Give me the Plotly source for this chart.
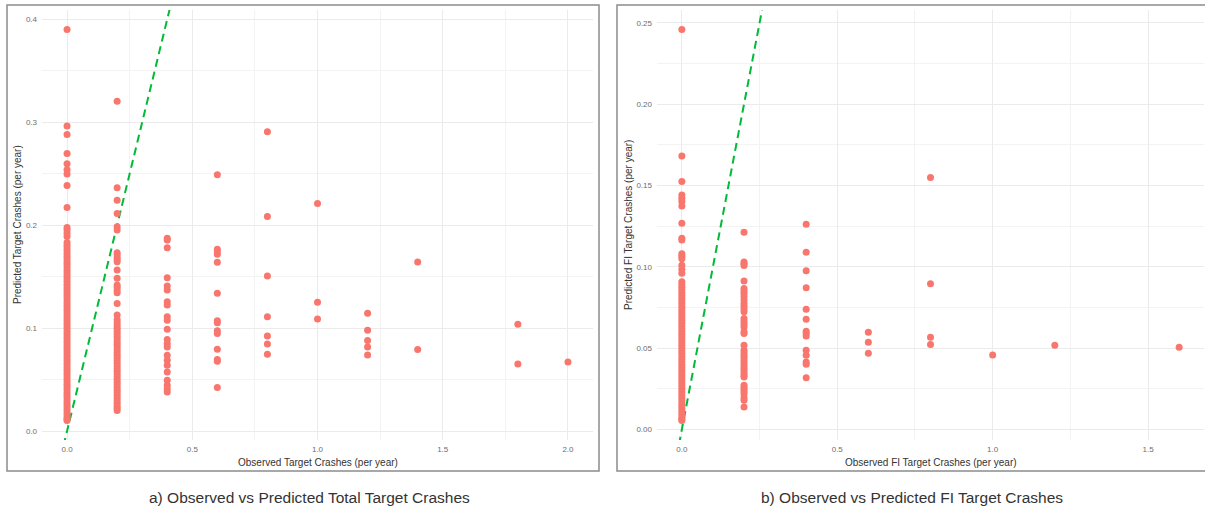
import plotly.graph_objects as go

W, H = 1205, 510

# ---- Total target crashes: observed levels and predicted values at each level
total_obs_levels = [0.0, 0.2, 0.4, 0.6, 0.8, 1.0, 1.2, 1.4, 1.8, 2.0]
total_pred_groups = [
    [0.390, 0.2964, 0.2882, 0.2697, 0.2597, 0.2538, 0.2497, 0.2386, 0.2171, 0.1977,
     0.1954, 0.1922, 0.1890, 0.1832, 0.1805, 0.1779, 0.1752, 0.1724, 0.1696, 0.1671,
     0.1643, 0.1618, 0.1590, 0.1561, 0.1537, 0.1509, 0.1482, 0.1455, 0.1427, 0.1401,
     0.1374, 0.1346, 0.1319, 0.1293, 0.1265, 0.1238, 0.1211, 0.1183, 0.1157, 0.1129,
     0.1102, 0.1075, 0.1048, 0.1021, 0.0994, 0.0967, 0.0941, 0.0913, 0.0886, 0.0859,
     0.0832, 0.0805, 0.0778, 0.0752, 0.0724, 0.0697, 0.0671, 0.0644, 0.0617, 0.0590,
     0.0563, 0.0536, 0.0509, 0.0482, 0.0455, 0.0428, 0.0401, 0.0374, 0.0348, 0.0321,
     0.0294, 0.0267, 0.0241, 0.0214, 0.0187, 0.0161, 0.0134, 0.0115, 0.0104],
    [0.3204, 0.2363, 0.2243, 0.2113, 0.1986, 0.1954, 0.1733, 0.1712, 0.1688, 0.1664,
     0.1646, 0.1565, 0.1484, 0.1420, 0.1398, 0.1372, 0.1345, 0.1240, 0.1127, 0.1081,
     0.1052, 0.1027, 0.0999, 0.0973, 0.0948, 0.0921, 0.0896, 0.0868, 0.0843, 0.0817,
     0.0790, 0.0764, 0.0738, 0.0712, 0.0686, 0.0659, 0.0633, 0.0607, 0.0581, 0.0554,
     0.0529, 0.0502, 0.0476, 0.0450, 0.0424, 0.0398, 0.0372, 0.0346, 0.0320, 0.0294,
     0.0268, 0.0243, 0.0219, 0.0201],
    [0.1873, 0.1857, 0.1782, 0.1490, 0.1409, 0.1370, 0.1256, 0.1224, 0.1110, 0.1078,
     0.0990, 0.0890, 0.0850, 0.0818, 0.0737, 0.0688, 0.0640, 0.0575, 0.0494, 0.0445,
     0.0410, 0.0380],
    [0.2490, 0.1766, 0.1743, 0.1718, 0.1640, 0.1340, 0.1071, 0.1052, 0.0974, 0.0948,
     0.0796, 0.0695, 0.0679, 0.0423],
    [0.2908, 0.2084, 0.1506, 0.1110, 0.0925, 0.0847, 0.0747],
    [0.2210, 0.1253, 0.1090],
    [0.1146, 0.0980, 0.0880, 0.0818, 0.0740],
    [0.1643, 0.0792],
    [0.1039, 0.0653],
    [0.0672],
]

# ---- Fatal/injury (FI) target crashes
fi_obs_levels = [0.0, 0.2, 0.4, 0.6, 0.8, 1.0, 1.2, 1.6]
fi_pred_groups = [
    [0.2459, 0.1682, 0.1524, 0.1442, 0.1421, 0.1401, 0.1374, 0.1268, 0.1175, 0.1165,
     0.1080, 0.1065, 0.1050, 0.1010, 0.0985, 0.0960, 0.0908, 0.0891, 0.0874, 0.0857,
     0.0840, 0.0823, 0.0806, 0.0789, 0.0772, 0.0755, 0.0738, 0.0721, 0.0704, 0.0687,
     0.0670, 0.0653, 0.0636, 0.0619, 0.0602, 0.0585, 0.0568, 0.0551, 0.0534, 0.0517,
     0.0500, 0.0483, 0.0466, 0.0449, 0.0432, 0.0415, 0.0398, 0.0381, 0.0364, 0.0347,
     0.0330, 0.0313, 0.0296, 0.0279, 0.0262, 0.0245, 0.0228, 0.0211, 0.0194, 0.0177,
     0.0160, 0.0143, 0.0126, 0.0109, 0.0092, 0.0075, 0.0062, 0.0055],
    [0.1212, 0.1030, 0.1018, 0.1008, 0.0912, 0.0867, 0.0851, 0.0836, 0.0815, 0.0795,
     0.0774, 0.0757, 0.0740, 0.0723, 0.0682, 0.0664, 0.0647, 0.0630, 0.0600, 0.0590,
     0.0518, 0.0487, 0.0471, 0.0455, 0.0440, 0.0424, 0.0408, 0.0392, 0.0376, 0.0360,
     0.0345, 0.0330, 0.0322, 0.0271, 0.0258, 0.0245, 0.0232, 0.0218, 0.0195, 0.0179,
     0.0137],
    [0.1261, 0.1089, 0.0976, 0.0871, 0.0739, 0.0678, 0.0604, 0.0590, 0.0575, 0.0487,
     0.0456, 0.0415, 0.0400, 0.0318],
    [0.0598, 0.0536, 0.0468],
    [0.1549, 0.0895, 0.0567, 0.0522],
    [0.0458],
    [0.0518],
    [0.0505],
]

total_x_ticks = [0.0, 0.5, 1.0, 1.5, 2.0]
total_x_labels = ["0.0", "0.5", "1.0", "1.5", "2.0"]
total_y_ticks = [0.0, 0.1, 0.2, 0.3, 0.4]
total_y_labels = ["0.0", "0.1", "0.2", "0.3", "0.4"]
fi_x_ticks = [0.0, 0.5, 1.0, 1.5]
fi_x_labels = ["0.0", "0.5", "1.0", "1.5"]
fi_y_ticks = [0.0, 0.05, 0.10, 0.15, 0.20, 0.25]
fi_y_labels = ["0.00", "0.05", "0.10", "0.15", "0.20", "0.25"]

captions = ["a) Observed vs Predicted Total Target Crashes",
            "b) Observed vs Predicted FI Target Crashes"]
x_titles = ["Observed Target Crashes (per year)", "Observed FI Target Crashes (per year)"]
y_titles = ["Predicted Target Crashes (per year)", "Predicted FI Target Crashes (per year)"]

POINT = "#F8766D"
REF = "#00BA38"
FONT = "Liberation Sans, Arial, sans-serif"


def flatten(levels, groups):
    xs, ys = [], []
    for lv, g in zip(levels, groups):
        xs.extend([lv] * len(g))
        ys.extend(g)
    return xs, ys


def padded(lo, hi, frac=0.05):
    span = hi - lo
    return [lo - frac * span, hi + frac * span]


def px_x(p):
    return p / W


def px_y(p):
    return 1 - p / H


fig = go.Figure()

panels = [
    dict(levels=total_obs_levels, groups=total_pred_groups,
         xt=total_x_ticks, xl=total_x_labels, yt=total_y_ticks, yl=total_y_labels,
         xminor=0.25, yminor=0.05, dom=(42, 593), box=(7, 599), ytitle_x=17),
    dict(levels=fi_obs_levels, groups=fi_pred_groups,
         xt=fi_x_ticks, xl=fi_x_labels, yt=fi_y_ticks, yl=fi_y_labels,
         xminor=0.25, yminor=0.025, dom=(657, 1204), box=(617, 1212), ytitle_x=628),
]

plot_top, plot_bot = 10, 440

for i, p in enumerate(panels):
    sfx = "" if i == 0 else str(i + 1)
    xs, ys = flatten(p["levels"], p["groups"])
    xr = padded(min(xs), max(xs))
    yr = padded(min(ys), max(ys))

    # 1:1 reference line spanning the panel (clipped to the axes)
    lo = min(xr[0], yr[0])
    hi = max(xr[1], yr[1])
    fig.add_trace(go.Scatter(
        x=[lo, hi], y=[lo, hi], mode="lines",
        line=dict(color=REF, width=2, dash="8px,5px"),
        xaxis="x" + sfx, yaxis="y" + sfx, showlegend=False, hoverinfo="skip"))

    fig.add_trace(go.Scatter(
        x=xs, y=ys, mode="markers",
        marker=dict(color=POINT, size=7, line=dict(width=0)),
        xaxis="x" + sfx, yaxis="y" + sfx, showlegend=False, cliponaxis=False))

    common = dict(showline=False, zeroline=False, ticks="", showgrid=True,
                  gridcolor="#EBEBEB", gridwidth=1,
                  tickfont=dict(family=FONT, size=8, color="#6E6E6E"))
    fig.layout["xaxis" + sfx] = dict(
        common, domain=[px_x(p["dom"][0]), px_x(p["dom"][1])], range=xr,
        anchor="y" + sfx, tickmode="array", tickvals=p["xt"], ticktext=p["xl"],
        minor=dict(dtick=p["xminor"], tick0=0, showgrid=True,
                   gridcolor="#F3F3F3", gridwidth=1),
        ticklabelstandoff=3)
    fig.layout["yaxis" + sfx] = dict(
        common, domain=[px_y(plot_bot), px_y(plot_top)], range=yr,
        anchor="x" + sfx, tickmode="array", tickvals=p["yt"], ticktext=p["yl"],
        minor=dict(dtick=p["yminor"], tick0=0, showgrid=True,
                   gridcolor="#F3F3F3", gridwidth=1),
        ticklabelstandoff=4)

    # panel frame
    fig.add_shape(type="rect", xref="paper", yref="paper",
                  x0=px_x(p["box"][0]), x1=px_x(p["box"][1]),
                  y0=px_y(471), y1=px_y(5),
                  line=dict(color="#8C8C8C", width=1.5), fillcolor="rgba(0,0,0,0)",
                  layer="above")

    cx = (p["dom"][0] + p["dom"][1]) / 2
    fig.add_annotation(text=x_titles[i], xref="paper", yref="paper",
                       x=px_x(cx), y=px_y(462), xanchor="center", yanchor="middle",
                       showarrow=False,
                       font=dict(family=FONT, size=10, color="#333333"))
    fig.add_annotation(text=y_titles[i], xref="paper", yref="paper",
                       x=px_x(p["ytitle_x"]), y=px_y((plot_top + plot_bot) / 2),
                       xanchor="center", yanchor="middle",
                       textangle=-90, showarrow=False,
                       font=dict(family=FONT, size=10, color="#333333"))

caption_x = [310, 912]
for cx, txt in zip(caption_x, captions):
    fig.add_annotation(text=txt, xref="paper", yref="paper",
                       x=px_x(cx), y=px_y(497), xanchor="center", yanchor="middle",
                       showarrow=False,
                       font=dict(family=FONT, size=15.5, color="#333333"))

fig.update_layout(width=W, height=H, margin=dict(l=0, r=0, t=0, b=0),
                  paper_bgcolor="white", plot_bgcolor="white")

fig.write_html("out.html")
